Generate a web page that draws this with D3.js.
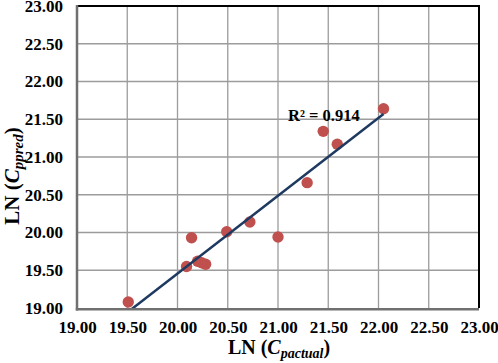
<!DOCTYPE html>
<html>
<head>
<meta charset="utf-8">
<script src="https://cdn.jsdelivr.net/npm/d3@7"></script>
<style>
  html, body { margin: 0; padding: 0; background: #fff; }
  svg { display: block; font-family: "Liberation Serif", "Times New Roman", serif; }
</style>
</head>
<body>
<svg id="chart" width="498" height="363"></svg>
<script>
// --- Data ---
const actual = [19.51, 20.09, 20.14, 20.20, 20.24, 20.28, 20.49, 20.72, 21.00, 21.29, 21.45, 21.59, 22.05];
const predicted = [19.08, 19.55, 19.93, 19.62, 19.60, 19.58, 20.01, 20.14, 19.94, 20.66, 21.34, 21.17, 21.64];
const xTicks = [19.0, 19.5, 20.0, 20.5, 21.0, 21.5, 22.0, 22.5, 23.0];
const yTicks = [19.0, 19.5, 20.0, 20.5, 21.0, 21.5, 22.0, 22.5, 23.0];
const r2Label = "R² = 0.914";

// --- Layout ---
const margin = { top: 6, right: 19, bottom: 55, left: 77 };
const svg = d3.select("#chart");
const W = +svg.attr("width"), H = +svg.attr("height");
const width = W - margin.left - margin.right;
const height = H - margin.top - margin.bottom;

const g = svg.append("g").attr("transform", `translate(${margin.left},${margin.top})`);

// --- Scales ---
const x = d3.scaleLinear().domain([19, 23]).range([0, width]);
const y = d3.scaleLinear().domain([19, 23]).range([height, 0]);

// Gridlines
g.append("g")
    .selectAll("line")
    .data(xTicks.slice(1, -1))
    .join("line")
    .attr("x1", d => x(d)).attr("x2", d => x(d))
    .attr("y1", 0).attr("y2", height)
    .attr("stroke", "#9c9c9c").attr("stroke-width", 1.3);

g.append("g")
    .selectAll("line")
    .data(yTicks.slice(1, -1))
    .join("line")
    .attr("x1", 0).attr("x2", width)
    .attr("y1", d => y(d)).attr("y2", d => y(d))
    .attr("stroke", "#9c9c9c").attr("stroke-width", 1.3);

// Plot border (top / right black)
g.append("line").attr("x1", 0).attr("x2", width + 1).attr("y1", 0).attr("y2", 0)
    .attr("stroke", "#000").attr("stroke-width", 2);
g.append("line").attr("x1", width).attr("x2", width).attr("y1", 0).attr("y2", height)
    .attr("stroke", "#000").attr("stroke-width", 2);

// --- Trend line (least squares fit of the points) ---
const mx = d3.mean(actual), my = d3.mean(predicted);
let sxy = 0, sxx = 0;
actual.forEach((a, i) => { sxy += (a - mx) * (predicted[i] - my); sxx += (a - mx) ** 2; });
const slope = sxy / sxx;
const intercept = my - slope * mx;
const [xMin, xMax] = d3.extent(actual);

g.append("clipPath").attr("id", "plot-clip")
    .append("rect").attr("width", width).attr("height", height);

const pts = actual.map((a, i) => ({ x: a, y: predicted[i] }));

g.append("g").attr("clip-path", "url(#plot-clip)")
    .selectAll("circle")
    .data(pts)
    .join("circle")
    .attr("cx", d => x(d.x))
    .attr("cy", d => y(d.y))
    .attr("r", 5.7)
    .attr("fill", "#c0504d");

g.append("line")
    .attr("clip-path", "url(#plot-clip)")
    .attr("x1", x(xMin)).attr("y1", y(intercept + slope * xMin))
    .attr("x2", x(xMax)).attr("y2", y(intercept + slope * xMax))
    .attr("stroke", "#1f3a60").attr("stroke-width", 2.5);

// Axis lines (gray left / bottom)
g.append("line").attr("x1", 0).attr("x2", 0).attr("y1", -1).attr("y2", height + 2.5)
    .attr("stroke", "#707070").attr("stroke-width", 2.5);
g.append("line").attr("x1", -1.2).attr("x2", width).attr("y1", height + 1.2).attr("y2", height + 1.2)
    .attr("stroke", "#707070").attr("stroke-width", 2.5);

// --- Axes labels ---
const xAxis = g.append("g")
    .attr("transform", `translate(0,${height})`)
    .call(d3.axisBottom(x).tickValues(xTicks).tickFormat(d3.format(".2f")).tickSize(0).tickPadding(13));
xAxis.select(".domain").remove();
xAxis.selectAll("text")
    .attr("font-family", "Liberation Serif, serif")
    .attr("font-size", 17).attr("font-weight", "bold").attr("fill", "#000");

const yAxis = g.append("g")
    .call(d3.axisLeft(y).tickValues(yTicks).tickFormat(d3.format(".2f")).tickSize(0).tickPadding(14));
yAxis.select(".domain").remove();
yAxis.selectAll("text")
    .attr("font-family", "Liberation Serif, serif")
    .attr("font-size", 17).attr("font-weight", "bold").attr("fill", "#000");

// R² annotation
g.append("text")
    .attr("x", 211).attr("y", 114.5)
    .attr("font-size", 16.5).attr("font-weight", "bold")
    .text(r2Label);

// X axis title
const xt = svg.append("text")
    .attr("x", 279).attr("y", 354)
    .attr("text-anchor", "middle")
    .attr("font-size", 20).attr("font-weight", "bold");
xt.append("tspan").text("LN (");
xt.append("tspan").attr("font-style", "italic").text("C");
xt.append("tspan").attr("font-style", "italic").attr("font-size", 14).attr("dy", 4).text("pactual");
xt.append("tspan").attr("dy", -4).text(")");

// Y axis title
const yt = svg.append("text")
    .attr("transform", "translate(19,176) rotate(-90)")
    .attr("text-anchor", "middle")
    .attr("font-size", 21).attr("font-weight", "bold");
yt.append("tspan").text("LN (");
yt.append("tspan").attr("font-style", "italic").text("C");
yt.append("tspan").attr("font-style", "italic").attr("font-size", 15).attr("dy", 4).text("ppred");
yt.append("tspan").attr("dy", -4).text(")");
</script>
</body>
</html>
